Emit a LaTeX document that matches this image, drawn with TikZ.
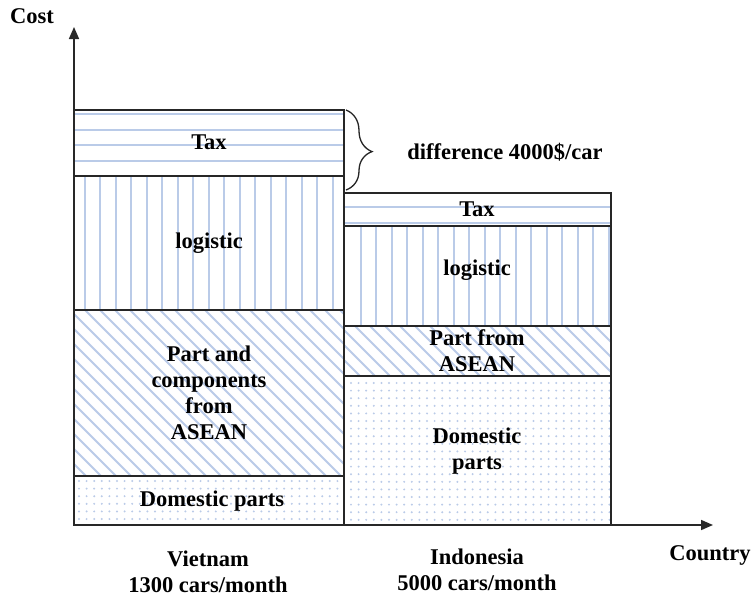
\documentclass[tikz,border=0pt]{standalone}
\usepackage{fontspec}
\setmainfont{Liberation Serif}
\usetikzlibrary{arrows.meta,decorations.pathreplacing}
\definecolor{hatch}{RGB}{186,203,232}
\definecolor{axisgray}{RGB}{40,40,40}

% fill helpers: region x1,y1,x2,y2 (screen px, y downwards)
\newcommand\hlinesfill[4]{%
  \begin{scope}
    \clip (#1,#2) rectangle (#3,#4);
    \foreach \yy in {114,129.5,...,240} {\draw[hatchline] (#1,\yy) -- (#3,\yy);}
  \end{scope}}
\newcommand\vlinesfill[5]{%
  \begin{scope}
    \clip (#1,#2) rectangle (#3,#4);
    \pgfmathsetmacro\xsecond{#5+15.5}
    \foreach \xx in {#5,\xsecond,...,#3} {\draw[hatchline] (\xx,#2) -- (\xx,#4);}
  \end{scope}}
\newcommand\dlinesfill[4]{%
  \begin{scope}
    \clip (#1,#2) rectangle (#3,#4);
    \foreach \xx in {-200,-185,...,700} {\draw[hatchline] (\xx,#2) -- ++(#4-#2,#4-#2);}
  \end{scope}}
\newcommand\dotsfill[6]{%
  \begin{scope}
    \clip (#1,#2) rectangle (#3,#4);
    \pgfmathsetmacro\xsecond{#5+7.6}
    \pgfmathsetmacro\ysecond{#6+7.6}
    \foreach \xx in {#5,\xsecond,...,#3} {
      \foreach \yy in {#6,\ysecond,...,#4} {\fill[hatch] (\xx,\yy) circle (1.1);}}
  \end{scope}}

\begin{document}
\begin{tikzpicture}[x=1pt,y=-1pt,
  hatchline/.style={draw=hatch,line width=2pt},
  barline/.style={draw=black!85,line width=1.4pt},
  axisline/.style={draw=axisgray,line width=1.6pt,-{Triangle[length=12pt,width=10pt]}},
  lbl/.style={font=\fontsize{22.5}{26}\selectfont\bfseries,align=center,inner sep=0pt}]
\useasboundingbox[fill=white] (0,0) rectangle (752,597);

% ---------- Vietnam bar ----------
\hlinesfill{74}{110}{344}{176}
\vlinesfill{74}{176}{344}{310}{84.5}
\dlinesfill{74}{310}{344}{476}
\dotsfill{74}{476}{344}{525}{79}{481}
% ---------- Indonesia bar ----------
\hlinesfill{344}{193}{611}{226}
\vlinesfill{344}{226}{611}{326}{360.5}
\dlinesfill{344}{326}{611}{376}
\dotsfill{344}{376}{611}{525}{351}{383}

% segment outlines
\draw[barline] (74,110) rectangle (344,525);
\draw[barline] (74,176) -- (344,176);
\draw[barline] (74,310) -- (344,310);
\draw[barline] (74,476) -- (344,476);
\draw[barline] (344,193) rectangle (611,525);
\draw[barline] (344,226) -- (611,226);
\draw[barline] (344,326) -- (611,326);
\draw[barline] (344,376) -- (611,376);

% ---------- axes ----------
\coordinate (origin) at (74,525);
\coordinate (ytip) at (74,27);
\coordinate (xtip) at (713,525);
\draw[axisline] (origin) -- (ytip);
\draw[axisline] (origin) -- (xtip);

% ---------- brace ----------
\coordinate (bracetop) at (346,110);
\coordinate (bracebot) at (346,190);
\draw[black!85,line width=1.3pt,decorate,decoration={brace,amplitude=26pt,aspect=0.52}]
  (bracetop) -- (bracebot);

% ---------- labels ----------
\node[lbl] (cost) at (32,16) {Cost};
\node[lbl] (country) at (710,555) {Country};
\node[lbl] (vtax) at (209,142) {Tax};
\node[lbl] (vlog) at (209,243) {logistic};
\node[lbl] (vpart) at (209,393) {Part and\\components\\from\\ASEAN};
\node[lbl] (vdom) at (212,501) {Domestic parts};
\node[lbl] (itax) at (477,209) {Tax};
\node[lbl] (ilog) at (477,270) {logistic};
\node[lbl] (ipart) at (477,351) {Part from\\ASEAN};
\node[lbl] (idom) at (477,451) {Domestic\\parts};
\node[lbl] (diff) at (505,152) {difference 4000\$/car};
\node[lbl] (vn) at (208,572) {Vietnam\\1300 cars/month};
\node[lbl] (id) at (477,570) {Indonesia\\5000 cars/month};
\end{tikzpicture}
\end{document}
